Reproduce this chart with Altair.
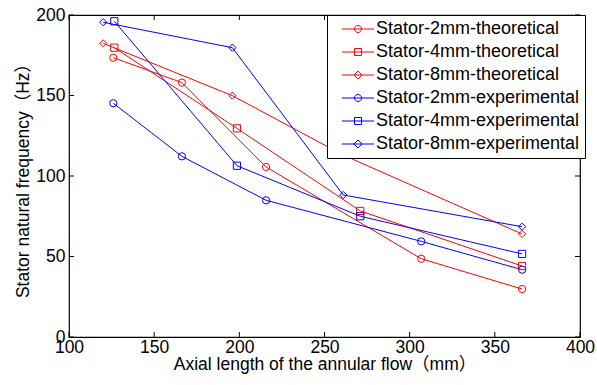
import altair as alt
import pandas as pd

series_names = [
    "Stator-2mm-theoretical", "Stator-4mm-theoretical", "Stator-8mm-theoretical",
    "Stator-2mm-experimental", "Stator-4mm-experimental", "Stator-8mm-experimental",
]
x_2mm = [126, 166.3, 215.7, 306.8, 366]
x_4mm = [126.6, 198.6, 271, 366]
x_8mm = [120.1, 195.9, 261, 366]
y_2mm_theo = [173.5, 158, 105.6, 48.6, 29.8]
y_4mm_theo = [179.7, 129.6, 78.3, 44.1]
y_8mm_theo = [182.4, 149.9, 113, 64]
y_2mm_exp = [145.2, 112.2, 84.9, 59.4, 41.8]
y_4mm_exp = [196.1, 106.4, 75, 51.6]
y_8mm_exp = [195.5, 179.7, 88.2, 68.5]
x_ticks = [100, 150, 200, 250, 300, 350, 400]
y_ticks = [0, 50, 100, 150, 200]
colors = ["#ff0000", "#ff0000", "#ff0000", "#0000ff", "#0000ff", "#0000ff"]
marker_shapes = ["circle", "square", "diamond", "circle", "square", "diamond"]

L = "M-4.6,0L4.6,0"
circ = L + "M1,0A1,1,0,1,1,-1,0A1,1,0,1,1,1,0Z"
sq = L + "M-1,-1L1,-1L1,1L-1,1Z"
dia = L + "M0,-1.15L1.15,0L0,1.15L-1.15,0Z"
legend_paths = [circ, sq, dia, circ, sq, dia]

xs = [x_2mm, x_4mm, x_8mm, x_2mm, x_4mm, x_8mm]
ys = [y_2mm_theo, y_4mm_theo, y_8mm_theo, y_2mm_exp, y_4mm_exp, y_8mm_exp]
rows = []
for name, mk, xv, yv in zip(series_names, marker_shapes, xs, ys):
    for a, b in zip(xv, yv):
        rows.append({"series": name, "marker": mk, "x": a, "y": b})
df = pd.DataFrame(rows)

W, H = 511, 322
FONT = "Liberation Sans, Arial, Noto Sans CJK SC"

xscale = alt.Scale(domain=[100, 400], nice=False, zero=False)
yscale = alt.Scale(domain=[0, 200], nice=False, zero=False)
cscale = alt.Scale(domain=series_names, range=colors)

x_axis = alt.Axis(
    values=x_ticks, ticks=False, domain=False, grid=False, labelFontSize=17.5,
    labelPadding=1, labelFlush=False, labelOverlap=False, labelColor="black",
    labelFont=FONT, title="Axial length of the annular flow（mm）", titleFont=FONT,
    titleFontSize=17.5, titleFontWeight="normal", titleColor="black",
    titleX=W / 2, titleY=32, titleBaseline="alphabetic", titleAnchor="middle",
)
y_axis = alt.Axis(
    values=y_ticks, ticks=False, domain=False, grid=False, labelFontSize=17.5,
    labelPadding=4, labelFlush=False, labelOverlap=False, labelColor="black",
    labelFont=FONT, title="Stator natural frequency（Hz）", titleFont=FONT,
    titleFontSize=17.5, titleFontWeight="normal", titleColor="black",
    titleX=-41, titleY=H / 2, titleAngle=270, titleBaseline="alphabetic",
    titleAnchor="middle",
)

leg = alt.Legend(
    title=None, orient="none", legendX=258, legendY=0, labelFont=FONT, labelFontSize=18,
    labelColor="black", symbolSize=49, symbolStrokeWidth=1, symbolOffset=17,
    labelOffset=9, rowPadding=5, padding=5, strokeColor="black", fillColor="white",
    cornerRadius=0, labelLimit=400, symbolFillColor="transparent",
)

base = alt.Chart(df)
lines = base.mark_line(strokeWidth=1).encode(
    x=alt.X("x:Q", scale=xscale, axis=x_axis),
    y=alt.Y("y:Q", scale=yscale, axis=y_axis),
    color=alt.Color("series:N", scale=cscale, legend=leg),
    detail="series:N",
)
marker_layers = []
for mk in ["circle", "square", "diamond"]:
    marker_layers.append(
        base.transform_filter(alt.datum.marker == mk)
        .mark_point(shape=mk, filled=False, size=52, strokeWidth=1, opacity=1)
        .encode(
            x=alt.X("x:Q", scale=xscale),
            y=alt.Y("y:Q", scale=yscale),
            color=alt.Color("series:N", scale=cscale, legend=leg),
        )
    )
legend_layer = base.mark_point(filled=False, strokeWidth=1, opacity=1).encode(
    x=alt.X("x:Q", scale=xscale),
    y=alt.Y("y:Q", scale=yscale),
    color=alt.Color("series:N", scale=cscale, legend=leg),
    shape=alt.Shape("series:N", scale=alt.Scale(domain=series_names, range=legend_paths), legend=leg),
).transform_filter("false")

xt = alt.Chart(pd.DataFrame({"x": x_ticks}))
yt = alt.Chart(pd.DataFrame({"y": y_ticks}))
tb = xt.mark_rule(color="black", strokeWidth=1).encode(
    x=alt.X("x:Q", scale=xscale), y=alt.value(H), y2=alt.value(H - 5))
tt = xt.mark_rule(color="black", strokeWidth=1).encode(
    x=alt.X("x:Q", scale=xscale), y=alt.value(0), y2=alt.value(5))
tl = yt.mark_rule(color="black", strokeWidth=1).encode(
    y=alt.Y("y:Q", scale=yscale), x=alt.value(0), x2=alt.value(5))
tr = yt.mark_rule(color="black", strokeWidth=1).encode(
    y=alt.Y("y:Q", scale=yscale), x=alt.value(W), x2=alt.value(W - 5))

chart = alt.layer(lines, *marker_layers, tb, tt, tl, tr, legend_layer).properties(
    width=W, height=H,
    padding={"left": 69, "top": 15, "right": 17, "bottom": 48},
    autosize=alt.AutoSizeParams(type="none"),
    background="white",
).configure_view(stroke="black", strokeWidth=1.2)

chart.save("out.html", embed_options={"renderer": "svg", "actions": False})
